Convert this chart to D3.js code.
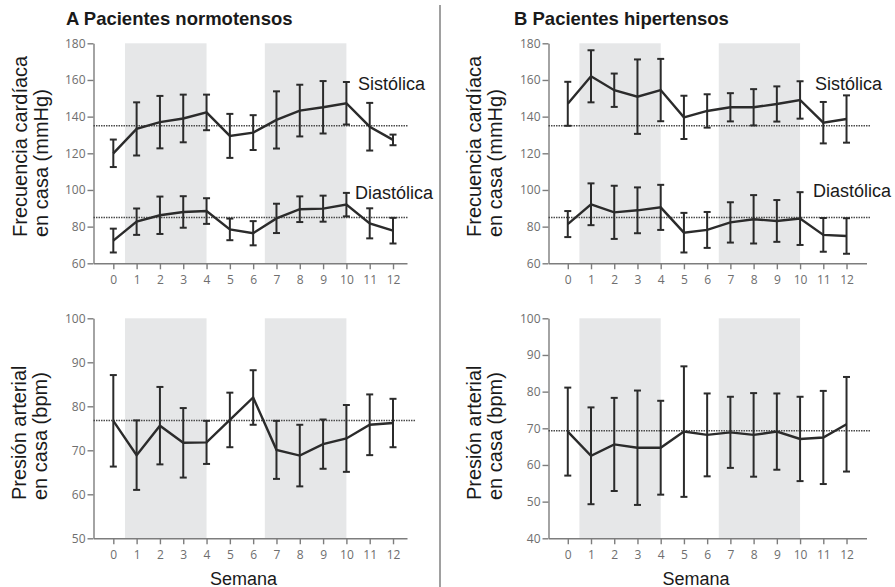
<!DOCTYPE html>
<html>
<head>
<meta charset="utf-8">
<script src="https://cdn.jsdelivr.net/npm/d3@7"></script>
<style>
  html, body { margin: 0; padding: 0; background: #fff; }
  svg { display: block; }
  .tick text { font-family: "Open Sans", sans-serif; font-size: 12px; fill: #6e6e6e; }
  .tick line, .domain { stroke: #7d7d7d; stroke-width: 1.4; }
  .lbl { font-family: "Liberation Sans", Arial, sans-serif; fill: #1a1a1a; }
</style>
</head>
<body>
<script>
// weeks on the x axis
const weeks = d3.range(0, 13);
// shaded periods (weeks)
const shadeBands = [[0.5, 4], [6.5, 10]];

// A: normotensive patients
const normSysMean = [120, 133.3, 137, 139, 142.3, 129.5, 131.3, 138.2, 143.3, 145.1, 147.3, 134.5, 127.3];
const normSysErr  = [7.5, 14.5, 14.3, 13, 9.7, 12, 9.5, 15.6, 14.1, 14.3, 11.6, 13, 2.9];
const normDiaMean = [72.4, 82.7, 86.2, 88, 88.5, 78.5, 76.4, 84.5, 89.5, 89.8, 92, 81.8, 77.8];
const normDiaErr  = [6.5, 7.2, 10.2, 8.6, 7, 5.9, 6.6, 8, 7, 7.1, 6.4, 8.2, 7];
const normHrMean  = [76.7, 68.9, 75.6, 71.7, 71.8, 76.9, 82, 70.1, 68.8, 71.4, 72.7, 75.8, 76.2];
const normHrErr   = [10.4, 7.9, 8.8, 7.9, 4.9, 6.2, 6.2, 6.6, 7, 5.6, 7.6, 6.9, 5.5];

// B: hypertensive patients
const hypSysMean = [147, 162, 154.4, 150.9, 154.5, 139.6, 143.1, 145.1, 145.1, 146.9, 149.1, 136.7, 138.7];
const hypSysErr  = [12, 14.2, 9.1, 20.3, 17, 11.8, 9.1, 7.7, 9.9, 9.6, 10.2, 11.3, 12.9];
const hypDiaMean = [81.4, 92.2, 87.8, 88.9, 90.5, 76.7, 78.2, 82.3, 84, 83.1, 84.4, 75.5, 74.9];
const hypDiaErr  = [7.1, 11.4, 14.5, 12.5, 12.3, 10.8, 9.8, 11, 13.2, 11.4, 14.4, 9.2, 9.7];
const hypHrMean  = [69.1, 62.5, 65.6, 64.7, 64.7, 69.1, 68.2, 68.9, 68.2, 69.1, 67.1, 67.5, 71.1];
const hypHrErr   = [12, 13.2, 12.7, 15.6, 12.8, 17.8, 11.3, 9.7, 11.4, 10.4, 11.5, 12.7, 12.9];

// dotted reference levels
const refTop = [135, 85];
const refNormHr = [76.8];
const refHypHr = [69.3];

// axis ticks
const bpTicks = [60, 80, 100, 120, 140, 160, 180];
const hrTicksNorm = [50, 60, 70, 80, 90, 100];
const hrTicksHyp = [40, 50, 60, 70, 80, 90, 100];

const svg = d3.select('body').append('svg')
    .attr('width', 895)
    .attr('height', 587);

const xL = d3.scaleLinear().domain([-0.85, 12.6]).range([93.5, 407]);
const xR = d3.scaleLinear().domain([-0.83, 12.86]).range([548.5, 866.5]);
const yTop = d3.scaleLinear().domain([60, 180]).range([263.3, 43.3]);
const yBotL = d3.scaleLinear().domain([50, 100]).range([538.3, 318.3]);
const yBotR = d3.scaleLinear().domain([40, 100]).range([538.3, 318.3]);

function panel(x, y, ticks, series, refs, refEnd) {
  const g = svg.append('g');
  const [y0, y1] = y.range();

  // shaded weeks
  g.selectAll('.band')
    .data(shadeBands)
    .enter().append('rect')
      .attr('x', d => x(d[0]))
      .attr('width', d => x(d[1]) - x(d[0]))
      .attr('y', y1)
      .attr('height', y0 - y1)
      .attr('fill', '#e6e7e8');

  // axes
  g.append('g')
    .attr('transform', 'translate(0,' + y0 + ')')
    .call(d3.axisBottom(x).tickValues(weeks).tickSize(6).tickSizeOuter(0).tickPadding(6));
  g.append('g')
    .attr('transform', 'translate(' + x.range()[0] + ',0)')
    .call(d3.axisLeft(y).tickValues(ticks).tickSize(6).tickSizeOuter(0).tickPadding(2));

  // reference lines
  g.selectAll('.ref')
    .data(refs)
    .enter().append('line')
      .attr('x1', x.range()[0])
      .attr('x2', refEnd)
      .attr('y1', d => y(d))
      .attr('y2', d => y(d))
      .attr('stroke', '#4a4a4a')
      .attr('stroke-width', 1.5)
      .attr('stroke-dasharray', '1.5,1');

  const line = d3.line().x((d, i) => x(i)).y(d => y(d));

  series.forEach(s => {
    const pts = s.mean.map((m, i) => ({ i: i, m: m, e: s.err[i] }));
    const eb = g.append('g')
      .attr('stroke', '#2b2b2b')
      .attr('stroke-width', 2)
      .selectAll('g')
      .data(pts)
      .enter().append('g');
    eb.append('line')
      .attr('x1', d => x(d.i)).attr('x2', d => x(d.i))
      .attr('y1', d => y(d.m - d.e)).attr('y2', d => y(d.m + d.e));
    eb.append('line')
      .attr('x1', d => x(d.i) - 3.5).attr('x2', d => x(d.i) + 3.5)
      .attr('y1', d => y(d.m + d.e)).attr('y2', d => y(d.m + d.e));
    eb.append('line')
      .attr('x1', d => x(d.i) - 3.5).attr('x2', d => x(d.i) + 3.5)
      .attr('y1', d => y(d.m - d.e)).attr('y2', d => y(d.m - d.e));

    g.append('path')
      .datum(s.mean)
      .attr('fill', 'none')
      .attr('stroke', '#2b2b2b')
      .attr('stroke-width', 2.4)
      .attr('stroke-linejoin', 'miter')
      .attr('d', line);
  });
  return g;
}

panel(xL, yTop, bpTicks, [{ mean: normSysMean, err: normSysErr }, { mean: normDiaMean, err: normDiaErr }], refTop, 408);
panel(xR, yTop, bpTicks, [{ mean: hypSysMean, err: hypSysErr }, { mean: hypDiaMean, err: hypDiaErr }], refTop, 870);
panel(xL, yBotL, hrTicksNorm, [{ mean: normHrMean, err: normHrErr }], refNormHr, 415);
panel(xR, yBotR, hrTicksHyp, [{ mean: hypHrMean, err: hypHrErr }], refHypHr, 870);

// separator
svg.append('line')
  .attr('x1', 440).attr('x2', 440)
  .attr('y1', 5).attr('y2', 587)
  .attr('stroke', '#a0a0a0')
  .attr('stroke-width', 2);

// titles
svg.append('text').attr('class', 'lbl')
  .attr('x', 66).attr('y', 25)
  .style('font-size', '18.5px').style('font-weight', 'bold')
  .text('A Pacientes normotensos');
svg.append('text').attr('class', 'lbl')
  .attr('x', 514).attr('y', 25)
  .style('font-size', '18.5px').style('font-weight', 'bold')
  .text('B Pacientes hipertensos');

// series labels
const seriesLabels = [
  { t: 'Sistólica', x: 358, y: 90 },
  { t: 'Diastólica', x: 355, y: 198.5 },
  { t: 'Sistólica', x: 815, y: 89.5 },
  { t: 'Diastólica', x: 813, y: 197 }
];
svg.selectAll('.slbl')
  .data(seriesLabels)
  .enter().append('text')
    .attr('class', 'lbl')
    .attr('x', d => d.x).attr('y', d => d.y)
    .style('font-size', '18px')
    .text(d => d.t);

// y axis titles
const yTitles = [
  { lines: ['Frecuencia cardíaca', 'en casa (mmHg)'], x: 27, y: 237 },
  { lines: ['Frecuencia cardíaca', 'en casa (mmHg)'], x: 481, y: 237 },
  { lines: ['Presión arterial', 'en casa (bpm)'], x: 25.5, y: 500 },
  { lines: ['Presión arterial', 'en casa (bpm)'], x: 480.5, y: 500 }
];
yTitles.forEach(d => {
  d.lines.forEach((l, i) => {
    svg.append('text').attr('class', 'lbl')
      .attr('transform', 'translate(' + (d.x + i * 21) + ',' + d.y + ') rotate(-90)')
      .style('font-size', '20px')
      .text(l);
  });
});

// x axis titles
[243.5, 696].forEach(cx => {
  svg.append('text').attr('class', 'lbl')
    .attr('x', cx).attr('y', 584.5)
    .attr('text-anchor', 'middle')
    .style('font-size', '18px')
    .text('Semana');
});
</script>
</body>
</html>
